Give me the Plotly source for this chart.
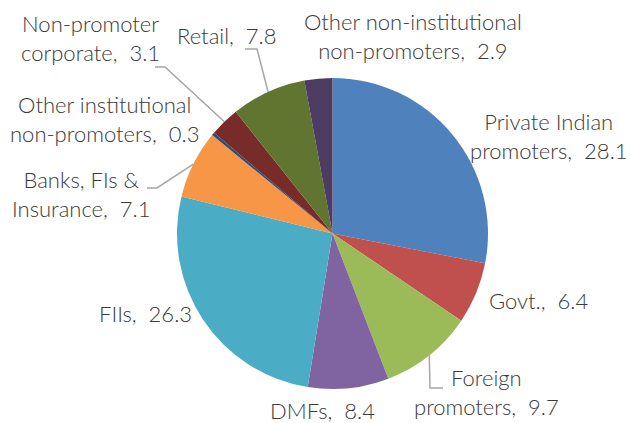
import math
import plotly.graph_objects as go

# ---- data ----
categories = ["Private Indian promoters", "Govt.", "Foreign promoters", "DMFs", "FIIs",
              "Banks, FIs & Insurance", "Other institutional non-promoters",
              "Non-promoter corporate", "Retail", "Other non-institutional non-promoters"]
values = [28.1, 6.4, 9.7, 8.4, 26.3, 7.1, 0.3, 3.1, 7.8, 2.9]
label_texts = ["Private Indian<br>promoters,  28.1", "Govt.,  6.4", "Foreign<br>promoters,  9.7",
               "DMFs,  8.4", "FIIs,  26.3", "Banks, FIs &<br>Insurance,  7.1",
               "Other institutional<br>non-promoters,  0.3", "Non-promoter<br>corporate,  3.1",
               "Retail,  7.8", "Other non-institutional<br>non-promoters,  2.9"]

# ---- style / layout ----
colors = ["#4F81BD", "#C0504D", "#9BBB59", "#8064A2", "#4BACC6",
          "#F79646", "#2C4D75", "#772C2A", "#5F7530", "#4D3B62"]
W, H = 631, 423
CX, CY, R = 332.5, 233.5, 155.5
label_pos = [(549, 136), (538, 300), (486, 392), (322, 410), (145, 313),
             (81, 194), (104, 119), (90, 38), (226, 35), (413, 36)]
# leader line path points (pixels) beyond the slice edge: index -> list of points
leader = {2: [(430, 388), (443, 388)],
          5: [(157, 188), (147, 188)],
          7: [(165, 67), (155, 67)],
          8: [(257, 49), (245, 49)]}

def px(x, y):
    return x / W, 1 - y / H

fig = go.Figure(go.Pie(
    labels=categories, values=values, sort=False, direction="clockwise", rotation=0,
    marker=dict(colors=colors, line=dict(width=0)), textinfo="none", hoverinfo="label+value",
    domain=dict(x=[(CX - R) / W, (CX + R) / W], y=[1 - (CY + R) / H, 1 - (CY - R) / H]),
    showlegend=False,
))

font = dict(family="Lato, 'Open Sans', sans-serif", size=22, color="#3A3A3A", weight=300)
for txt, (x, y) in zip(label_texts, label_pos):
    ax, ay = px(x, y)
    fig.add_annotation(x=ax, y=ay, xref="paper", yref="paper", text=txt, showarrow=False,
                       xanchor="center", yanchor="middle", font=font, align="center")

total = sum(values)
cum = 0
for i, v in enumerate(values):
    mid = (cum + v / 2) / total * 2 * math.pi
    cum += v
    if i not in leader:
        continue
    sx = CX + R * math.sin(mid)
    sy = CY - R * math.cos(mid)
    pts = [(sx, sy)] + leader[i]
    path = "M " + " L ".join(f"{px(a, b)[0]},{px(a, b)[1]}" for a, b in pts)
    fig.add_shape(type="path", path=path, xref="paper", yref="paper",
                  line=dict(color="#A6A6A6", width=1.5))

fig.update_layout(width=W, height=H, margin=dict(l=0, r=0, t=0, b=0),
                  paper_bgcolor="white", plot_bgcolor="white")
fig.write_html("out.html", config={"displayModeBar": False},
               post_script="document.body.style.margin='0';document.body.style.overflow='hidden';")
